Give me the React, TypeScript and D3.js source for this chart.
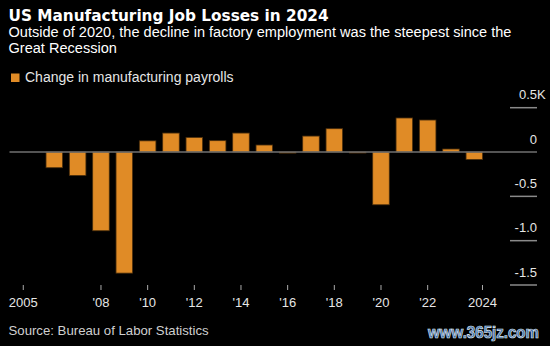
import React from 'react';
import * as d3 from 'd3';

const years = [2005, 2006, 2007, 2008, 2009, 2010, 2011, 2012, 2013, 2014, 2015, 2016, 2017, 2018, 2019, 2020, 2021, 2022, 2023, 2024];
const payrollChange = [0, -0.177, -0.264, -0.888, -1.366, 0.126, 0.214, 0.165, 0.128, 0.214, 0.079, -0.012, 0.18, 0.263, -0.006, -0.595, 0.384, 0.361, 0.034, -0.084];
const yTicks = [0.5, 0, -0.5, -1.0, -1.5];
const yTickLabels = ['0.5', '0', '-0.5', '-1.0', '-1.5'];
const xTickYears = [2005, 2008, 2010, 2012, 2014, 2016, 2018, 2020, 2022, 2024];
const xTickLabels = ['2005', "'08", "'10", "'12", "'14", "'16", "'18", "'20", "'22", '2024'];

const W = 550;
const H = 346;
const FONT = '"Liberation Sans", Arial, sans-serif';

export default function App() {
  const x = d3.scaleBand<number>().domain(years).range([19.3, 486]).paddingInner(0.29).paddingOuter(0.145);
  const y = d3.scaleLinear().domain([-1.5, 0.5]).range([285, 107.7]);
  const step = x.step();
  const bw = x.bandwidth();
  const tickX = (yr: number) => {
    const c = (x(yr) as number) + bw / 2;
    if (yr === years[0]) return c - 0.33 * step;
    if (yr === years[years.length - 1]) return c + 0.35 * step;
    return c;
  };
  return (
    <svg width={W} height={H} style={{ position: 'absolute', left: 0, top: 0, background: '#000' }}>
      <rect x={0} y={0} width={W} height={H} fill="#000" />
      <text x={8.5} y={20.5} fill="#fff" fontFamily='"DejaVu Sans", Verdana, sans-serif' fontWeight="bold" fontSize={15.3}>
        US Manufacturing Job Losses in 2024
      </text>
      <text x={8.5} y={37} fill="#fff" fontFamily={FONT} fontSize={14.55}>
        Outside of 2020, the decline in factory employment was the steepest since the
      </text>
      <text x={8.5} y={52.5} fill="#fff" fontFamily={FONT} fontSize={14.55}>
        Great Recession
      </text>
      <rect x={11} y={73.5} width={8.5} height={8.5} fill="#E08B26" />
      <text x={25} y={82} fill="#e6e6e6" fontFamily={FONT} fontSize={14}>
        Change in manufacturing payrolls
      </text>

      {yTicks.map((t, i) => (
        <g key={'yt' + i}>
          {t !== 0 && <line x1={510} x2={537} y1={y(t)} y2={y(t)} stroke="#8a8a8a" strokeWidth={1.5} />}
          <text x={537} y={y(t) - 8.5} textAnchor="end" fill="#e6e6e6" fontFamily={FONT} fontSize={13}>
            {yTickLabels[i]}
          </text>
          {i === 0 && (
            <text x={537} y={y(t) - 8.5} fill="#e6e6e6" fontFamily={FONT} fontSize={13}>K</text>
          )}
        </g>
      ))}

      {years.map((yr, i) => {
        const v = payrollChange[i];
        if (v === 0) return null;
        const y0 = y(0);
        const y1 = y(v);
        return (
          <rect
            key={'b' + yr}
            x={x(yr)}
            width={bw}
            y={Math.min(y0, y1)}
            height={Math.max(1, Math.abs(y1 - y0))}
            fill="#E08B26"
            stroke="#4a2e0c"
            strokeWidth={0.8}
          />
        );
      })}

      <line x1={9.5} x2={537} y1={y(0)} y2={y(0)} stroke="#707070" strokeWidth={1.5} />

      {xTickYears.map((yr, i) => (
        <g key={'xt' + yr}>
          <line x1={tickX(yr)} x2={tickX(yr)} y1={285} y2={290} stroke="#aaa" strokeWidth={1} />
          <text x={tickX(yr)} y={306.5} textAnchor="middle" fill="#e6e6e6" fontFamily={FONT} fontSize={13}>
            {xTickLabels[i]}
          </text>
        </g>
      ))}

      <text x={8.5} y={335} fill="#d0d0d0" fontFamily={FONT} fontSize={13.2}>
        Source: Bureau of Labor Statistics
      </text>
      <text x={428} y={338} fill="#3b6aa6" stroke="#dfe6ee" strokeWidth={0.7} fontFamily={FONT} fontWeight="bold" fontSize={16} textLength={111} lengthAdjust="spacingAndGlyphs">
        www.365jz.com
      </text>
    </svg>
  );
}
